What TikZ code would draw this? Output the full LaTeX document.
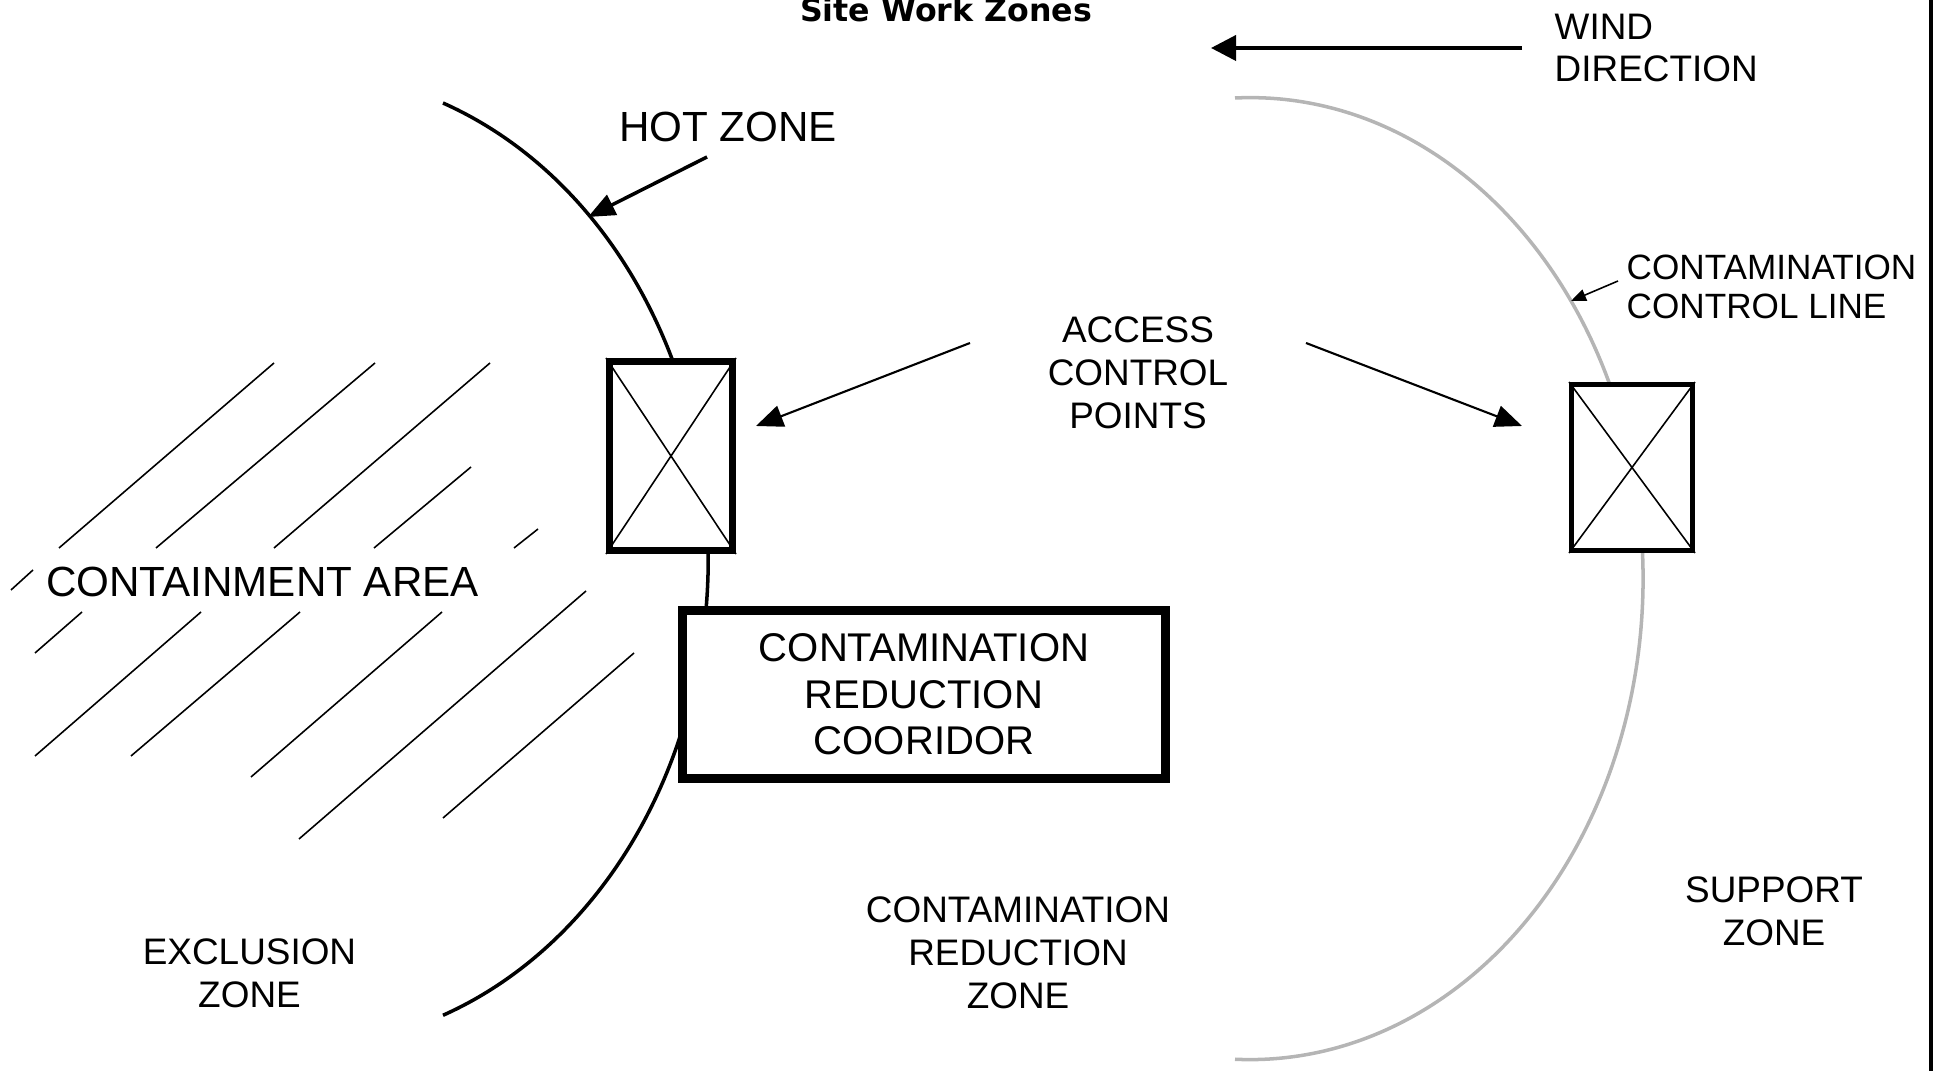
\documentclass[tikz,border=0pt]{standalone}
\usepackage{fontspec}
\setmainfont{Liberation Sans}
\newfontfamily\titlefont{DejaVu Sans}
\usetikzlibrary{arrows.meta}
\definecolor{linegray}{RGB}{181,181,181}

\begin{document}
\begin{tikzpicture}[
    hatch/.style={line width=0.45pt},
    zoneline/.style={line width=1pt},
    pointer/.style={line width=0.6pt,-{Triangle[length=0.27cm,width=0.22cm]}},
    acpbox/.style={draw,fill=white,inner sep=0pt},
    bigtext/.style={font=\fontsize{12}{14}\selectfont},
    zonetext/.style={font=\fontsize{10.5}{12.2}\selectfont,align=center}]
\useasboundingbox (0,0) rectangle (19.37,10.71);

% containment area hatching
\foreach \xa/\ya/\xb/\yb in {0.59/5.23/2.74/7.08, 1.56/5.23/3.75/7.08,
    2.74/5.23/4.90/7.08, 3.74/5.23/4.71/6.04, 5.14/5.23/5.38/5.42,
    0.11/4.81/0.33/5.01, 0.35/4.18/0.82/4.59, 0.35/3.15/2.01/4.59,
    1.31/3.15/3.00/4.59, 2.51/2.94/4.42/4.59, 2.99/2.32/5.86/4.80,
    4.43/2.53/6.34/4.18}
  \draw[hatch] (\xa,\ya) -- (\xb,\yb);

% hot zone line and contamination control line
\draw[zoneline] (4.43,9.68) arc[start angle=69.5,end angle=-69.5,x radius=4.08,y radius=4.87];
\draw[zoneline,linegray] (12.35,9.73) arc[start angle=92.2,end angle=-92.2,x radius=3.93,y radius=4.81];

% access control points
\node[acpbox,line width=2pt,minimum width=1.23cm,minimum height=1.89cm] (acpL) at (6.71,6.15) {};
\draw[hatch] (acpL.north west) -- (acpL.south east) (acpL.north east) -- (acpL.south west);
\node[acpbox,line width=1.4pt,minimum width=1.21cm,minimum height=1.66cm] (acpR) at (16.32,6.035) {};
\draw[hatch] (acpR.north west) -- (acpR.south east) (acpR.north east) -- (acpR.south west);

% corridor
\node[draw,fill=white,line width=2.5pt,minimum width=4.83cm,minimum height=1.68cm,
    font=\fontsize{11.4}{13.2}\selectfont,align=center] (crc) at (9.24,3.765)
    {CONTAMINATION\\REDUCTION\\COORIDOR};

% labels
\node[anchor=base,font=\titlefont\bfseries\fontsize{9}{11}\selectfont] (title) at (9.46,10.49) {Site Work Zones};
\node[zonetext,anchor=west,align=left,inner sep=0pt] (wind) at (15.54,10.23) {WIND\\DIRECTION};
\node[bigtext] (hotzone) at (7.28,9.44) {HOT ZONE};
\node[zonetext] (acp) at (11.38,6.98) {ACCESS\\CONTROL\\POINTS};
\node[font=\fontsize{10}{11.3}\selectfont,anchor=west,align=left,inner sep=0pt] (ccl) at (16.26,7.84) {CONTAMINATION\\CONTROL LINE};
\node[bigtext] (contain) at (2.625,4.89) {CONTAINMENT AREA};
\node[zonetext] (exzone) at (2.495,0.976) {EXCLUSION\\ZONE};
\node[zonetext] (crzone) at (10.18,1.18) {CONTAMINATION\\REDUCTION\\ZONE};
\node[zonetext] (suzone) at (17.74,1.60) {SUPPORT\\ZONE};

% arrows
\coordinate (windtail) at (15.22,10.23);
\coordinate (windtip) at (12.11,10.23);
\draw[line width=1.1pt,-{Triangle[length=0.25cm,width=0.25cm]}] (windtail) -- (windtip);
\coordinate (hztail) at (7.07,9.14);
\coordinate (hztip) at (5.88,8.54);
\draw[pointer,line width=1pt] (hztail) -- (hztip);
\coordinate (acpLtail) at (9.70,7.28);
\coordinate (acpLtip) at (7.56,6.45);
\draw[pointer] (acpLtail) -- (acpLtip);
\coordinate (acpRtail) at (13.06,7.28);
\coordinate (acpRtip) at (15.22,6.45);
\draw[pointer] (acpRtail) -- (acpRtip);
\coordinate (ccltail) at (16.18,7.90);
\coordinate (ccltip) at (15.71,7.70);
\draw[line width=0.45pt,-{Triangle[length=0.15cm,width=0.12cm]}] (ccltail) -- (ccltip);

% frame edge
\draw[line width=1.1pt] (19.31,0) -- (19.31,10.71);
\end{tikzpicture}
\end{document}
